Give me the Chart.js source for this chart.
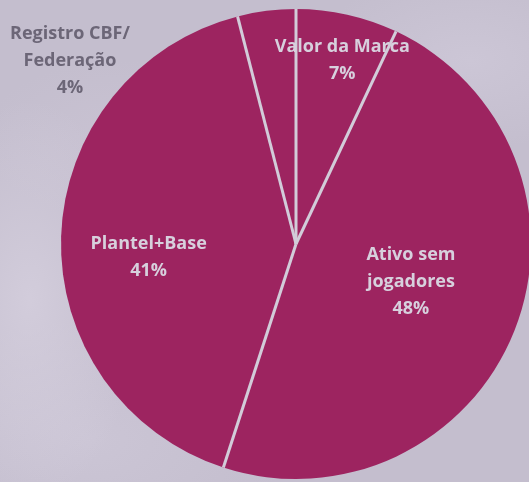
<!DOCTYPE html>
<html>
<head>
<meta charset="utf-8">
<script src="https://cdn.jsdelivr.net/npm/chart.js@4"></script>
<style>
  html, body {
    margin: 0;
    padding: 0;
    width: 529px;
    height: 482px;
    overflow: hidden;
    background-color: #c4bece;
    background-image:
      radial-gradient(ellipse 110px 200px at 30px 300px, rgba(222, 216, 230, 0.55), rgba(222, 216, 230, 0)),
      radial-gradient(ellipse 160px 90px at 470px 60px, rgba(212, 206, 222, 0.5), rgba(212, 206, 222, 0)),
      radial-gradient(ellipse 200px 120px at 90px 440px, rgba(208, 202, 218, 0.6), rgba(208, 202, 218, 0)),
      radial-gradient(ellipse 140px 80px at 120px 140px, rgba(205, 198, 214, 0.5), rgba(205, 198, 214, 0));
  }
  #grafico {
    position: absolute;
    left: 0;
    top: 0;
  }
</style>
</head>
<body>
<canvas id="grafico" width="592" height="488"></canvas>
<script>
// Composição do valor do clube
const categorias = [['Valor da Marca'], ['Ativo sem', 'jogadores'], ['Plantel+Base'], ['Registro CBF/', 'Federação']];
const percentuais = [7, 48, 41, 4];

// posição de cada rótulo em relação ao centro, em frações do raio
const posRotulos = [
    { x: 0.197, y: -0.78 },
    { x: 0.489, y: 0.160 },
    { x: -0.627, y: 0.055 },
    { x: -0.962, y: -0.78 }
];
const corRotulos = ['#d7d0dd', '#d7d0dd', '#d7d0dd', '#6c6677'];

const corFatia = '#9d2460';
const corDivisa = '#d2ccd9';

const divisasPlugin = {
    id: 'divisas',
    afterDatasetsDraw(chart) {
        const ctx = chart.ctx;
        const arcos = chart.getDatasetMeta(0).data;
        ctx.save();
        ctx.strokeStyle = corDivisa;
        ctx.lineWidth = 3;
        ctx.lineCap = 'butt';
        arcos.forEach(function(arco) {
            const p = arco.getProps(['x', 'y', 'startAngle', 'outerRadius']);
            ctx.beginPath();
            ctx.moveTo(p.x, p.y);
            ctx.lineTo(p.x + Math.cos(p.startAngle) * p.outerRadius, p.y + Math.sin(p.startAngle) * p.outerRadius);
            ctx.stroke();
        });
        ctx.restore();
    }
};

const rotulosPlugin = {
    id: 'rotulos',
    afterDraw(chart) {
        const ctx = chart.ctx;
        const arcos = chart.getDatasetMeta(0).data;
        const alturaLinha = 27;
        ctx.save();
        ctx.font = 'bold 18px "Open Sans", sans-serif';
        ctx.textAlign = 'center';
        ctx.textBaseline = 'middle';
        arcos.forEach(function(arco, i) {
            const p = arco.getProps(['x', 'y', 'outerRadius']);
            const linhas = categorias[i].concat([percentuais[i] + '%']);
            const cx = p.x + posRotulos[i].x * p.outerRadius;
            const cy = p.y + posRotulos[i].y * p.outerRadius;
            const topo = cy - (linhas.length - 1) * alturaLinha / 2;
            ctx.fillStyle = corRotulos[i];
            linhas.forEach(function(linha, j) {
                ctx.fillText(linha, cx, topo + j * alturaLinha);
            });
        });
        ctx.restore();
    }
};

new Chart(document.getElementById('grafico'), {
    type: 'pie',
    data: {
        labels: categorias.map(function(c) { return c.join(' '); }),
        datasets: [{
            data: percentuais,
            backgroundColor: corFatia,
            borderWidth: 0
        }]
    },
    options: {
        responsive: false,
        animation: false,
        devicePixelRatio: 1,
        layout: { padding: 9 },
        plugins: {
            legend: { display: false },
            tooltip: { enabled: false }
        }
    },
    plugins: [divisasPlugin, rotulosPlugin]
});
</script>
</body>
</html>
